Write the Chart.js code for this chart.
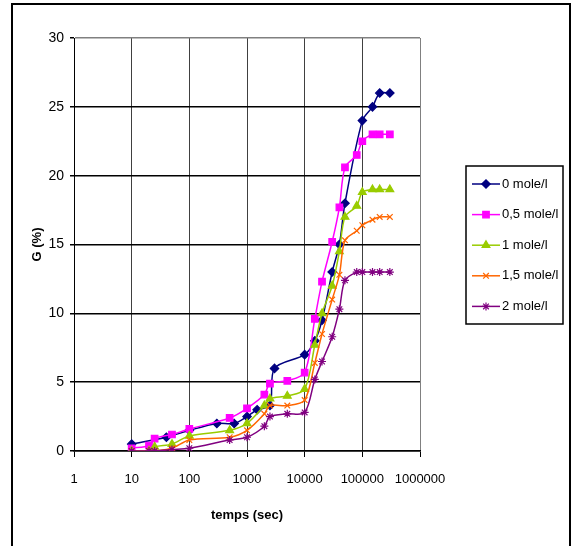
<!DOCTYPE html>
<html lang="fr">
<head>
<meta charset="utf-8">
<title>G (%) - temps (sec)</title>
<script src="https://cdn.jsdelivr.net/npm/chart.js@4.4.1/dist/chart.umd.min.js"></script>
<style>
    html, body { margin: 0; padding: 0; background: #fff; }
    #wrap { width: 572px; height: 546px; }
</style>
</head>
<body>
<div id="wrap"><canvas id="gChart" width="572" height="546"></canvas></div>
<script>
// Temps (sec) - the 0 mole/l series was measured at its own times
const timesPure = [10, 40, 100, 300, 600, 1000, 1500, 2500, 3000, 10000, 15000, 20000, 30000, 40000, 50000, 100000, 150000, 200000, 300000];
const times = [10, 20, 25, 50, 100, 500, 1000, 2000, 2500, 5000, 10000, 15000, 20000, 30000, 40000, 50000, 80000, 100000, 150000, 200000, 300000];

// G (%) for each concentration
const g0 = [0.5, 1.0, 1.5, 2.0, 2.0, 2.5, 3.0, 3.3, 6.0, 7.0, 8.0, 9.5, 13.0, 15.0, 18.0, 24.0, 25.0, 26.0, 26.0];
const g05 = [0.2, 0.4, 0.9, 1.2, 1.6, 2.4, 3.1, 4.1, 4.9, 5.1, 5.7, 9.6, 12.3, 15.2, 17.7, 20.6, 21.5, 22.5, 23.0, 23.0, 23.0];
const g1 = [0, 0, 0.3, 0.5, 1.1, 1.5, 2.0, 3.3, 3.8, 4.0, 4.5, 7.7, 10.0, 12.0, 14.5, 17.0, 17.8, 18.8, 19.0, 19.0, 19.0];
const g15 = [0, 0, 0, 0.2, 0.8, 1.0, 1.5, 2.7, 3.3, 3.3, 3.7, 6.4, 8.5, 11.0, 12.8, 15.3, 16.0, 16.4, 16.8, 17.0, 17.0];
const g2 = [0, 0, 0, 0.1, 0.2, 0.8, 1.0, 1.8, 2.5, 2.7, 2.8, 5.2, 6.5, 8.3, 10.3, 12.4, 13.0, 13.0, 13.0, 13.0, 13.0];

const seriesLabels = ['0 mole/l', '0,5 mole/l', '1 mole/l', '1,5 mole/l', '2 mole/l'];
const xTickValues = [1, 10, 100, 1000, 10000, 100000, 1000000];
const yTickValues = [0, 5, 10, 15, 20, 25, 30];

const FONT = '"Liberation Sans", Arial, sans-serif';

function toPoints(xs, ys) {
    return xs.map((x, i) => ({ x: x, y: ys[i] }));
}

const seriesDefs = [
    { data: toPoints(timesPure, g0), color: '#000080', style: 'rectRot', r: 4.2 },
    { data: toPoints(times, g05), color: '#FF00FF', style: 'rect', r: 4.6 },
    { data: toPoints(times, g1), color: '#99CC00', style: 'triangle', r: 4.5 },
    { data: toPoints(times, g15), color: '#FF6600', style: 'crossRot', r: 4 },
    { data: toPoints(times, g2), color: '#800080', style: 'star', r: 4 }
];

const datasets = seriesDefs.map((s, i) => ({
    label: seriesLabels[i],
    data: s.data,
    showLine: true,
    tension: 0.3,
    borderColor: s.color,
    backgroundColor: s.color,
    borderWidth: 1.5,
    pointStyle: s.style,
    pointRadius: s.r,
    pointBorderWidth: 1.2,
    pointBackgroundColor: s.color,
    pointBorderColor: s.color,
    order: seriesDefs.length - i  // later series drawn on top, like the original
}));

// Outer frame + white background
const framePlugin = {
    id: 'frame',
    beforeDraw(chart) {
        const ctx = chart.ctx;
        ctx.save();
        ctx.fillStyle = '#fff';
        ctx.fillRect(0, 0, chart.width, chart.height);
        ctx.restore();
    },
    afterDraw(chart) {
        const ctx = chart.ctx;
        ctx.save();
        ctx.strokeStyle = '#000';
        ctx.lineWidth = 2;
        ctx.strokeRect(12, 4, 558, 600);
        ctx.restore();
    }
};

// Boxed legend on the right
const boxLegend = {
    id: 'boxLegend',
    afterDraw(chart) {
        const ctx = chart.ctx;
        ctx.save();
        ctx.strokeStyle = '#000';
        ctx.lineWidth = 1.5;
        ctx.strokeRect(466, 166, 97, 158);
        chart.data.datasets.forEach((ds, i) => {
            const y = 184 + i * 30.6;
            ctx.strokeStyle = ds.borderColor;
            ctx.lineWidth = ds.borderWidth;
            ctx.beginPath();
            ctx.moveTo(472, y);
            ctx.lineTo(500, y);
            ctx.stroke();
            ctx.fillStyle = ds.pointBackgroundColor;
            ctx.lineWidth = ds.pointBorderWidth;
            Chart.helpers.drawPoint(ctx, {
                pointStyle: ds.pointStyle,
                radius: ds.pointRadius,
                rotation: 0,
                borderWidth: ds.pointBorderWidth
            }, 486, y);
            ctx.fillStyle = '#000';
            ctx.font = '13px ' + FONT;
            ctx.textBaseline = 'middle';
            ctx.textAlign = 'left';
            ctx.fillText(ds.label, 502, y);
        });
        ctx.restore();
    }
};

new Chart(document.getElementById('gChart'), {
    type: 'scatter',
    data: { datasets: datasets },
    options: {
        responsive: false,
        animation: false,
        layout: { padding: { left: 0, right: 152, top: 38, bottom: 0 } },
        plugins: {
            legend: { display: false },
            tooltip: { enabled: false }
        },
        scales: {
            x: {
                type: 'logarithmic',
                min: 1,
                max: 1000000,
                afterBuildTicks: (scale) => {
                    scale.ticks = xTickValues.map(v => ({ value: v }));
                },
                afterFit: (scale) => { scale.height = 95; },
                grid: {
                    color: (c) => (c.tick && c.tick.value === 1000000 ? '#808080' : '#404040'),
                    lineWidth: 1,
                    tickLength: 6,
                    tickColor: '#000'
                },
                border: { color: '#000', width: 1.5 },
                ticks: {
                    color: '#000',
                    font: { family: FONT, size: 13 },
                    padding: 15,
                    maxRotation: 0,
                    autoSkip: false,
                    callback: (v) => String(v)
                },
                title: {
                    display: true,
                    text: 'temps (sec)',
                    color: '#000',
                    font: { family: FONT, size: 13, weight: 'bold' },
                    padding: { top: 0, bottom: 23 }
                }
            },
            y: {
                min: 0,
                max: 30,
                afterBuildTicks: (scale) => {
                    scale.ticks = yTickValues.map(v => ({ value: v }));
                },
                afterFit: (scale) => { scale.width = 74; },
                grid: {
                    color: (c) => (c.tick && c.tick.value === 30 ? '#808080' : '#000'),
                    lineWidth: 1.5,
                    tickLength: 4,
                    tickColor: '#000'
                },
                border: { color: '#000', width: 1 },
                ticks: {
                    color: '#000',
                    font: { family: FONT, size: 14 },
                    padding: 6
                },
                title: {
                    display: true,
                    text: 'G (%)',
                    color: '#000',
                    font: { family: FONT, size: 13, weight: 'bold' },
                    padding: { top: 30, bottom: 0 }
                }
            }
        }
    },
    plugins: [framePlugin, boxLegend]
});
</script>
</body>
</html>
